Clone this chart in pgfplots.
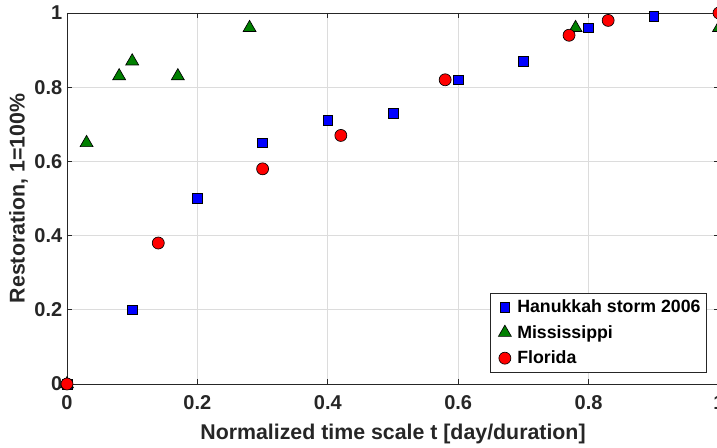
\documentclass[border=0pt]{standalone}
\usepackage{pgfplots}
\pgfplotsset{compat=1.18}
\usepackage{fontspec}
\setmainfont{Liberation Sans}
\definecolor{txt}{HTML}{262626}
\definecolor{mgreen}{rgb}{0,0.5,0}
\definecolor{gridc}{HTML}{DCDCDC}
\begin{document}
\begin{tikzpicture}
\useasboundingbox (-50.25pt,-47.25pt) rectangle (487.5pt,288pt);
\clip (-50.25pt,-47.25pt) rectangle (487.5pt,288pt);
\begin{axis}[
  at={(0pt,0pt)}, anchor=south west,
  scale only axis, width=489pt, height=278.25pt,
  xmin=0, xmax=1, ymin=0, ymax=1,
  xtick={0,0.2,0.4,0.6,0.8,1}, ytick={0,0.2,0.4,0.6,0.8,1},
  grid=major, major grid style={gridc, line width=0.6pt},
  tick align=inside, major tick length=4pt,
  tick style={txt, line width=0.6pt},
  axis line style={txt, line width=0.7pt},
  /pgf/number format/assume math mode=true,
  ticklabel style={font=\fontsize{15}{18}\selectfont\bfseries, text=txt},
  xticklabel style={yshift=-5pt},
  xlabel={Normalized time scale t [day/duration]},
  ylabel={Restoration, 1=100\%},
  label style={font=\fontsize{16}{19}\selectfont\bfseries, text=txt},
  xlabel style={yshift=-4pt},
  ylabel style={yshift=-2pt},
  clip=false,
  legend style={at={(rel axis cs:1,0)}, anchor=south east, xshift=-9pt, yshift=8.5pt,
    draw=txt, line width=0.6pt, font=\fontsize{13.3}{16}\selectfont\bfseries, text=black,
    inner xsep=1.5pt, inner ysep=3pt, row sep=4pt,
    nodes={inner xsep=3pt}},
  legend image code/.code={\path (0pt,-1pt) (15pt,1pt); \draw plot coordinates {(9pt,0pt)};},
  legend cell align=left,
]
\addplot[only marks, mark=square*, mark size=3.7pt, mark options={fill=blue, draw=black, line width=0.5pt}]
  coordinates {(0,0) (0.1,0.2) (0.2,0.5) (0.3,0.65) (0.4,0.71) (0.5,0.73) (0.6,0.82) (0.7,0.87) (0.8,0.96) (0.9,0.99)};
\addlegendentry{Hanukkah storm 2006}
\addplot[only marks, mark=triangle*, mark size=5.6pt, mark options={fill=mgreen, draw=black, line width=0.5pt}]
  coordinates {(0,0) (0.03,0.65) (0.08,0.83) (0.1,0.87) (0.17,0.83) (0.28,0.96) (0.78,0.96) (1.0,0.96)};
\addlegendentry{Mississippi}
\addplot[only marks, mark=*, mark size=4.5pt, mark options={fill=red, draw=black, line width=0.5pt}]
  coordinates {(0,0) (0.14,0.38) (0.3,0.58) (0.42,0.67) (0.58,0.82) (0.77,0.94) (0.83,0.98) (1.0,1.0)};
\addlegendentry{Florida}
\end{axis}
\end{tikzpicture}
\end{document}
